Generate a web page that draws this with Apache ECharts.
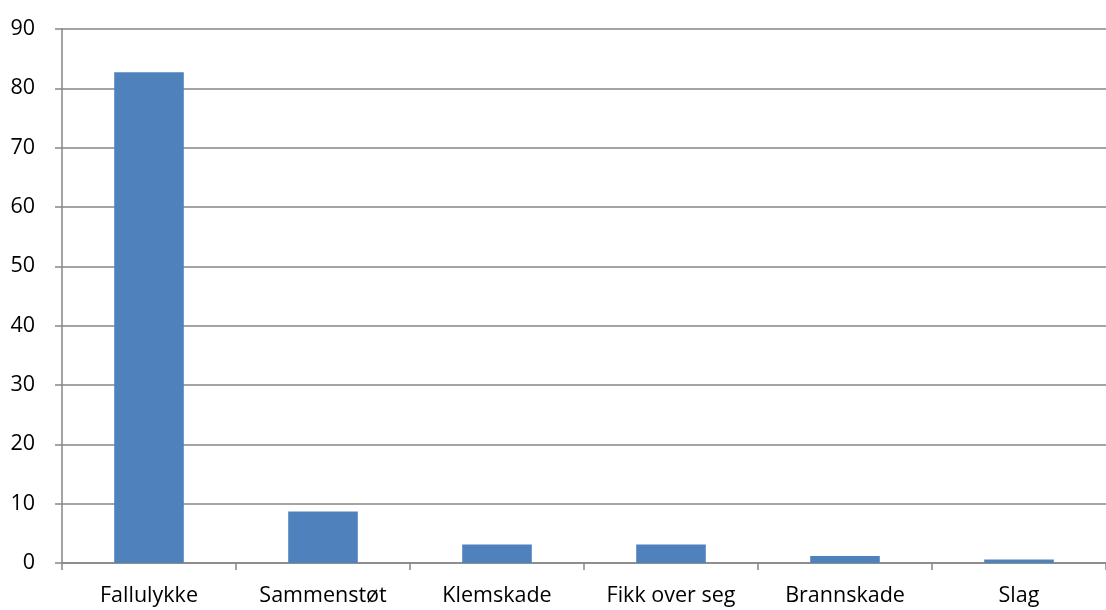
<!DOCTYPE html>
<html>
<head>
<meta charset="utf-8">
<script src="https://cdn.jsdelivr.net/npm/echarts@6/dist/echarts.min.js"></script>
<style>
  html, body { margin: 0; padding: 0; background: #fff; }
  #chart { width: 1106px; height: 610px; }
</style>
</head>
<body>
<div id="chart"></div>
<script>
const categories = ["Fallulykke", "Sammenstøt", "Klemskade", "Fikk over seg", "Brannskade", "Slag"];
const values = [82.7, 8.7, 3.1, 3.1, 1.2, 0.6];

const chart = echarts.init(document.getElementById("chart"), null, { renderer: "canvas" });

const font = "'Open Sans', 'Noto Sans', sans-serif";

chart.setOption({
  animation: false,
  grid: { left: 62, right: -10, top: 29, bottom: 47 },
  xAxis: {
    type: "category",
    data: categories,
    axisLine: { lineStyle: { color: "#868686", width: 1.5 } },
    axisTick: { show: true, length: 7, lineStyle: { color: "#868686", width: 1.5 } },
    axisLabel: { color: "#000", fontSize: 21.5, fontFamily: font, margin: 22 }
  },
  yAxis: {
    type: "value",
    min: 0,
    max: 90,
    interval: 10,
    axisLine: { show: true, lineStyle: { color: "#868686", width: 1.5 } },
    axisTick: { show: true, length: 7, lineStyle: { color: "#868686", width: 1.5 } },
    axisLabel: { color: "#000", fontSize: 21.5, fontFamily: font, margin: 27 },
    splitLine: { lineStyle: { color: "#868686", width: 1.5 } }
  },
  series: [{
    type: "bar",
    data: values,
    barWidth: "40%",
    itemStyle: { color: "#4F81BD" }
  }]
});
</script>
</body>
</html>
